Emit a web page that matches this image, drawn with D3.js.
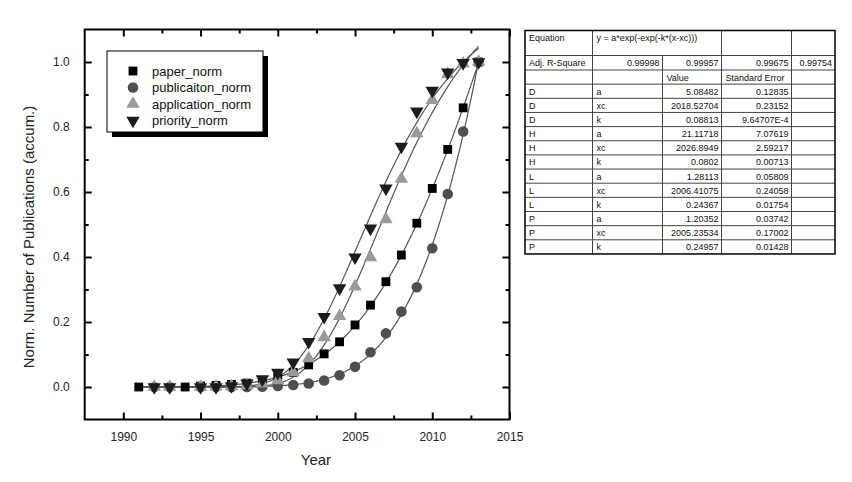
<!DOCTYPE html>
<html>
<head>
<meta charset="utf-8">
<script src="https://cdn.jsdelivr.net/npm/d3@7"></script>
<style>
  html, body { margin: 0; padding: 0; background: #fff; }
  svg { display: block; font-family: "Liberation Sans", Arial, sans-serif; }
</style>
</head>
<body>
<svg id="chart" width="852" height="482"></svg>
<script>
// ---------------- data ----------------
const years = [1991,1992,1993,1994,1995,1996,1997,1998,1999,2000,2001,2002,2003,2004,2005,2006,2007,2008,2009,2010,2011,2012,2013];
const paperNorm       = [0, null, null, 0, 0.003, 0.005, 0.008, 0.012, 0.02, 0.03, 0.045, 0.068, 0.102, 0.139, 0.191, 0.252, 0.324, 0.406, 0.504, 0.611, 0.731, 0.859, 1.0];
const publicationNorm = [null, 0, 0, null, 0, 0, 0, 0, 0.001, 0.003, 0.006, 0.011, 0.02, 0.036, 0.062, 0.107, 0.165, 0.232, 0.307, 0.427, 0.594, 0.786, 1.0];
const applicationNorm = [null, 0, 0, null, 0, 0.001, 0.002, 0.005, 0.01, 0.02, 0.045, 0.088, 0.153, 0.218, 0.309, 0.399, 0.516, 0.64, 0.78, 0.883, 0.962, 0.995, 1.0];
const priorityNorm    = [null, 0, 0, null, 0, 0, 0.003, 0.011, 0.024, 0.044, 0.076, 0.139, 0.216, 0.304, 0.399, 0.488, 0.611, 0.74, 0.848, 0.912, 0.968, 0.997, 1.0];

const seriesNames = ["paper_norm", "publicaiton_norm", "application_norm", "priority_norm"];
const fitLabels = ["D", "H", "L", "P"];            // fit for paper, publication, application, priority
const fitA   = ["5.08482", "21.11718", "1.28113", "1.20352"];
const fitAErr = ["0.12835", "7.07619", "0.05809", "0.03742"];
const fitXc  = ["2018.52704", "2026.8949", "2006.41075", "2005.23534"];
const fitXcErr = ["0.23152", "2.59217", "0.24058", "0.17002"];
const fitK   = ["0.08813", "0.0802", "0.24367", "0.24957"];
const fitKErr = ["9.64707E-4", "0.00713", "0.01754", "0.01428"];
const adjR2  = ["0.99998", "0.99957", "0.99675", "0.99754"];
const equationText = "y = a*exp(-exp(-k*(x-xc)))";

const xTicks = [1990, 1995, 2000, 2005, 2010, 2015];
const xMinor = [1992.5, 1997.5, 2002.5, 2007.5, 2012.5];
const yTicks = [0, 0.2, 0.4, 0.6, 0.8, 1.0];
const yMinor = [0.1, 0.3, 0.5, 0.7, 0.9];

// ---------------- setup ----------------
const svg = d3.select("#chart");
const L = 84.7, R = 509.5, T = 29.5, B = 419.5;
const x = d3.scaleLinear().domain([1987.5, 2015]).range([L, R]);
const y = d3.scaleLinear().domain([-0.1, 1.1]).range([B, T]);

const seriesData = [paperNorm, publicationNorm, applicationNorm, priorityNorm];
const colors = ["#000000", "#4f4f4f", "#9a9a9a", "#1c1c1c"];
const shapes = [
  {type: d3.symbolSquare, size: 78, rot: 0},
  {type: d3.symbolCircle, size: 88, rot: 0},
  {type: d3.symbolTriangle, size: 78, rot: 0},
  {type: d3.symbolTriangle, size: 78, rot: 180}
];

// ---------------- axes ----------------
const tickStyle = g => {
  g.select(".domain").remove();
  g.selectAll(".tick line").attr("stroke", "#000").attr("stroke-width", 2);
  g.selectAll(".tick text").attr("fill", "#222").style("font-size", "12px")
    .style("font-family", "'Liberation Sans', Arial, sans-serif");
};

svg.append("g").attr("transform", `translate(0,${B})`)
  .call(d3.axisBottom(x).tickValues(xTicks).tickFormat(d3.format("d")).tickSizeInner(-7).tickSizeOuter(0).tickPadding(13))
  .call(tickStyle);
svg.append("g").attr("transform", `translate(0,${B})`)
  .call(d3.axisBottom(x).tickValues(xMinor).tickFormat("").tickSizeInner(-4).tickSizeOuter(0))
  .call(tickStyle);
svg.append("g").attr("transform", `translate(0,${T})`)
  .call(d3.axisTop(x).tickValues(xTicks).tickFormat("").tickSizeInner(-7).tickSizeOuter(0))
  .call(tickStyle);
svg.append("g").attr("transform", `translate(0,${T})`)
  .call(d3.axisTop(x).tickValues(xMinor).tickFormat("").tickSizeInner(-4).tickSizeOuter(0))
  .call(tickStyle);

svg.append("g").attr("transform", `translate(${L},0)`)
  .call(d3.axisLeft(y).tickValues(yTicks).tickFormat(d3.format(".1f")).tickSizeInner(-7).tickSizeOuter(0).tickPadding(15))
  .call(tickStyle);
svg.append("g").attr("transform", `translate(${L},0)`)
  .call(d3.axisLeft(y).tickValues(yMinor).tickFormat("").tickSizeInner(-4).tickSizeOuter(0))
  .call(tickStyle);
svg.append("g").attr("transform", `translate(${R},0)`)
  .call(d3.axisRight(y).tickValues(yTicks).tickFormat("").tickSizeInner(-7).tickSizeOuter(0))
  .call(tickStyle);
svg.append("g").attr("transform", `translate(${R},0)`)
  .call(d3.axisRight(y).tickValues(yMinor).tickFormat("").tickSizeInner(-4).tickSizeOuter(0))
  .call(tickStyle);

svg.append("rect").attr("x", L).attr("y", T).attr("width", R - L).attr("height", B - T)
  .attr("fill", "none").attr("stroke", "#000").attr("stroke-width", 2);

// titles
svg.append("text").attr("x", x(2002.5) - 0.5).attr("y", 465).attr("text-anchor", "middle")
  .attr("fill", "#222").style("font-size", "15px").text("Year");
svg.append("text").attr("transform", "translate(34,237) rotate(-90)").attr("text-anchor", "middle")
  .attr("fill", "#222").style("font-size", "15px").text("Norm. Number of Publications (accum.)");

// ---------------- fit curves ----------------
const curveYears = d3.range(1991, 2013.001, 0.1);
const line = d3.line().x(d => x(d[0])).y(d => y(d[1]));
for (let i = 0; i < 4; i++) {
  const a = +fitA[i], xc = +fitXc[i], k = +fitK[i];
  const pts = curveYears.map(t => [t, a * Math.exp(-Math.exp(-k * (t - xc)))]);
  svg.append("path").datum(pts).attr("d", line).attr("fill", "none")
    .attr("stroke", "#555").attr("stroke-width", 1.2);
}

// ---------------- markers ----------------
for (let i = 0; i < 4; i++) {
  const pts = years.map((yr, j) => [yr, seriesData[i][j]]).filter(d => d[1] !== null);
  const sym = d3.symbol().type(shapes[i].type).size(shapes[i].size);
  svg.append("g").selectAll("path").data(pts).join("path")
    .attr("d", sym)
    .attr("transform", d => `translate(${x(d[0])},${y(d[1])}) rotate(${shapes[i].rot})`)
    .attr("fill", colors[i]);
}

// ---------------- legend ----------------
const lg = svg.append("g");
lg.append("rect").attr("x", 112).attr("y", 56).attr("width", 156).attr("height", 81).attr("fill", "#000");
lg.append("rect").attr("x", 107).attr("y", 51).attr("width", 156).attr("height", 81)
  .attr("fill", "#fff").attr("stroke", "#000").attr("stroke-width", 1);
seriesNames.forEach((name, i) => {
  const cy = 71 + i * 16.5;
  const sym = d3.symbol().type(shapes[i].type).size(shapes[i].size);
  lg.append("path").attr("d", sym)
    .attr("transform", `translate(133,${cy}) rotate(${shapes[i].rot})`).attr("fill", colors[i]);
  lg.append("text").attr("x", 152).attr("y", cy + 4.5).attr("fill", "#111")
    .style("font-size", "13px").text(name);
});

// ---------------- table ----------------
const tb = svg.append("g").style("font-size", "9px").attr("fill", "#111");
const cols = [525, 592.5, 662.5, 721.5, 791.5, 835];
const rowTops = [30.5, 55.5, 70];
const rowH = 14.15;
const rows = [];
fitLabels.forEach((lab, i) => {
  rows.push([lab, "a", fitA[i], fitAErr[i]]);
  rows.push([lab, "xc", fitXc[i], fitXcErr[i]]);
  rows.push([lab, "k", fitK[i], fitKErr[i]]);
});
const headerRowTop = 70;
const nRows = rows.length + 1;
const tableBottom = headerRowTop + nRows * rowH;

// horizontal lines
const hLines = [55.5, 70];
for (let r = 1; r < nRows; r++) hLines.push(headerRowTop + r * rowH);
hLines.forEach(yy => tb.append("line").attr("x1", cols[0]).attr("x2", cols[5]).attr("y1", yy).attr("y2", yy)
  .attr("stroke", "#444").attr("stroke-width", 1));
// vertical lines
[1, 3, 4].forEach(c => tb.append("line").attr("x1", cols[c]).attr("x2", cols[c]).attr("y1", 30.5).attr("y2", tableBottom)
  .attr("stroke", "#444").attr("stroke-width", 1));
tb.append("line").attr("x1", cols[2]).attr("x2", cols[2]).attr("y1", 55.5).attr("y2", tableBottom)
  .attr("stroke", "#444").attr("stroke-width", 1);
// outer border
tb.append("rect").attr("x", cols[0]).attr("y", 30.5).attr("width", cols[5] - cols[0]).attr("height", tableBottom - 30.5)
  .attr("fill", "none").attr("stroke", "#000").attr("stroke-width", 1.5);

// texts
tb.append("text").attr("x", cols[0] + 4).attr("y", 41).text("Equation");
tb.append("text").attr("x", cols[1] + 4).attr("y", 41).text(equationText);
tb.append("text").attr("x", cols[0] + 4).attr("y", 66).text("Adj. R-Square");
adjR2.forEach((v, i) => tb.append("text").attr("x", cols[i + 2] - 3).attr("y", 66)
  .attr("text-anchor", "end").text(v));
tb.append("text").attr("x", cols[2] + 4).attr("y", headerRowTop + 10.5).text("Value");
tb.append("text").attr("x", cols[3] + 4).attr("y", headerRowTop + 10.5).text("Standard Error");
rows.forEach((r, i) => {
  const by = headerRowTop + (i + 1) * rowH + 10.5;
  tb.append("text").attr("x", cols[0] + 4).attr("y", by).text(r[0]);
  tb.append("text").attr("x", cols[1] + 4).attr("y", by).text(r[1]);
  tb.append("text").attr("x", cols[3] - 3).attr("y", by).attr("text-anchor", "end").text(r[2]);
  tb.append("text").attr("x", cols[4] - 3).attr("y", by).attr("text-anchor", "end").text(r[3]);
});
</script>
</body>
</html>
